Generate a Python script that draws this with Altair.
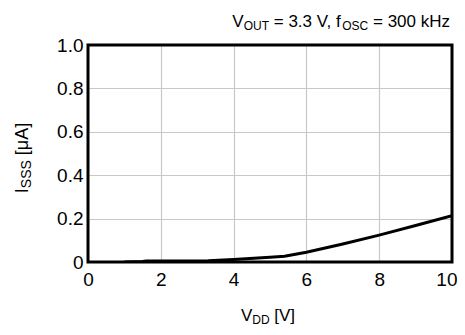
import altair as alt
import pandas as pd

# ---- data ----
vdd = [1.0, 1.5, 1.6, 2.0, 3.0, 3.3, 4.0, 5.0, 5.4, 6.0, 7.0, 8.0, 9.0, 10.0]
isss = [0.0, 0.002, 0.005, 0.005, 0.005, 0.006, 0.012, 0.022, 0.027, 0.045, 0.083, 0.124, 0.168, 0.213]
x_ticks = [0, 2, 4, 6, 8, 10]
y_ticks = [0, 0.2, 0.4, 0.6, 0.8, 1.0]

FONT = "Liberation Sans"
W, H = 364, 217
FS = 17      # main text size
FSS = 12     # subscript size
FT = 19      # tick label size

# Arial/Liberation Sans advance widths (per 1000 em) for layout of subscripted texts
ADV = {"V": 667, "O": 778, "U": 722, "T": 611, " ": 278, "=": 584, ".": 278, ",": 278,
       "f": 278, "S": 667, "C": 722, "k": 500, "H": 722, "z": 500, "I": 278, "[": 278,
       "μ": 576, "A": 667, "]": 278, "D": 722}
for d in "0123456789":
    ADV[d] = 556


def width(s, size):
    return sum(ADV.get(c, 556) for c in s) * size / 1000.0


def rich(segments, x0, y0, rotate=False, fs=FS, fss=FSS):
    """segments: list of (text, is_sub). Text pieces placed one after another."""
    layers = []
    pos = 0.0
    for txt, sub in segments:
        size = fss if sub else fs
        off = 3 if sub else 0
        lead = len(txt) - len(txt.lstrip(" "))
        p = pos + width(" " * lead, size)
        core = txt.strip(" ")
        if core:
            if rotate:
                x, y, ang = x0 + off, y0 - p, 270
            else:
                x, y, ang = x0 + p, y0 + off, 0
            layers.append(
                alt.Chart(pd.DataFrame({"t": [core]})).mark_text(
                    font=FONT, fontSize=size, align="left", baseline="alphabetic",
                    angle=ang, color="black", clip=False
                ).encode(x=alt.value(x), y=alt.value(y), text="t:N")
            )
        pos += width(txt, size)
    return layers, pos


df = pd.DataFrame({"vdd": vdd, "isss": isss})

axis_common = dict(title=None, grid=True, domain=False, ticks=False, labelFont=FONT,
                   labelFontSize=FT, labelColor="black", gridColor="#c8c8c8",
                   gridWidth=1.2, labelFlush=False)

base = alt.Chart(df).mark_line(color="black", strokeWidth=3, clip=True).encode(
    x=alt.X("vdd:Q", scale=alt.Scale(domain=[0, 10], nice=False),
            axis=alt.Axis(values=x_ticks, labelPadding=8,
                          labelAlign=alt.condition("datum.value == 10", alt.value("right"), alt.value("center")),
                          labelOffset=alt.condition("datum.value == 10", alt.value(5), alt.value(0)),
                          **axis_common)),
    y=alt.Y("isss:Q", scale=alt.Scale(domain=[0, 1], nice=False),
            axis=alt.Axis(values=y_ticks, labelPadding=5,
                          labelExpr="datum.value == 0 ? '0' : format(datum.value, '.1f')",
                          **axis_common)),
)

frame = alt.Chart(pd.DataFrame({"a": [0]})).mark_rect(
    fill=None, stroke="black", strokeWidth=3, clip=False
).encode(x=alt.value(0), x2=alt.value(W), y=alt.value(0), y2=alt.value(H))

# title (top right)
title_segs = [("V", False), ("OUT", True), (" = 3.3 V, f", False), ("OSC", True), (" = 300 kHz", False)]
_, tw = rich(title_segs, 0, 0)
title_layers, _ = rich(title_segs, W - tw - 2, -18)

# x-axis title
xt_segs = [("V", False), ("DD", True), (" [V]", False)]
_, xw = rich(xt_segs, 0, 0)
xt_layers, _ = rich(xt_segs, W / 2 - xw / 2 - 2, H + 59)

# y-axis title (rotated)
yt_segs = [("I", False), ("SSS", True), (" [μA]", False)]
_, yw = rich(yt_segs, 0, 0, fs=18, fss=14)
yt_layers, _ = rich(yt_segs, -60, 113 + yw / 2, rotate=True, fs=18, fss=14)

chart = alt.layer(base, frame, *title_layers, *xt_layers, *yt_layers).properties(
    width=W, height=H,
    autosize=alt.AutoSizeParams(type="none"),
    padding={"left": 80, "top": 37, "right": 5, "bottom": 65},
).configure_view(stroke=None).configure(background="white")

chart.save("out.html", embed_options={"renderer": "svg", "actions": False})
